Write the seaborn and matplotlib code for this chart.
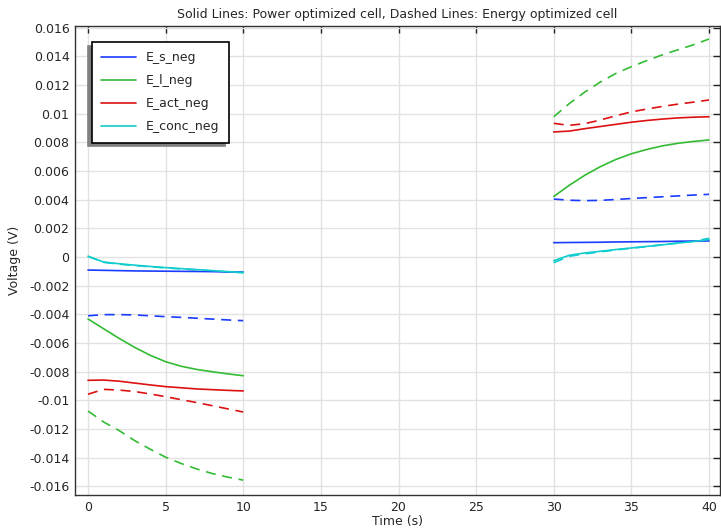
import numpy as np
import pandas as pd
import matplotlib
matplotlib.use("Agg")
import matplotlib.pyplot as plt
import seaborn as sns
from matplotlib.ticker import FuncFormatter, MultipleLocator

# ---- data ----
t_left = [0, 1, 2, 3, 4, 5, 6, 7, 8, 9, 10]
t_right = [30, 31, 32, 33, 34, 35, 36, 37, 38, 39, 40]

# Power optimized cell (solid)
Es_pow_L = [-0.00091, -0.00093, -0.00095, -0.00097, -0.00098, -0.00099, -0.00100, -0.00101, -0.00102, -0.00104, -0.00105]
El_pow_L = [-0.00432, -0.00500, -0.00567, -0.00630, -0.00685, -0.00730, -0.00762, -0.00784, -0.00800, -0.00815, -0.00828]
Eact_pow_L = [-0.0086, -0.00858, -0.00866, -0.00879, -0.00892, -0.00904, -0.00912, -0.0092, -0.00925, -0.0093, -0.00934]
Econc_pow_L = [0.00005, -0.00035, -0.00047, -0.00057, -0.00066, -0.00074, -0.00081, -0.00088, -0.00095, -0.00102, -0.00108]

Es_pow_R = [0.00100, 0.00101, 0.00102, 0.00103, 0.00105, 0.00106, 0.00107, 0.00108, 0.00110, 0.00111, 0.00112]
El_pow_R = [0.00422, 0.0050, 0.0057, 0.0063, 0.0068, 0.0072, 0.0075, 0.00775, 0.00793, 0.00806, 0.00816]
Eact_pow_R = [0.00872, 0.00878, 0.00895, 0.0091, 0.00925, 0.0094, 0.00952, 0.00962, 0.0097, 0.00975, 0.00978]
Econc_pow_R = [-0.00026, 0.00012, 0.00028, 0.0004, 0.00052, 0.00063, 0.00074, 0.00085, 0.00097, 0.00108, 0.00122]

# Energy optimized cell (dashed)
Es_en_L = [-0.0041, -0.00402, -0.00402, -0.00404, -0.0041, -0.00416, -0.00421, -0.00427, -0.00433, -0.00439, -0.00444]
El_en_L = [-0.01074, -0.0115, -0.0121, -0.0128, -0.0134, -0.01396, -0.0144, -0.01478, -0.0151, -0.01535, -0.01556]
Eact_en_L = [-0.00957, -0.00923, -0.00928, -0.00938, -0.00955, -0.00974, -0.00995, -0.01015, -0.01037, -0.01059, -0.01081]
Econc_en_L = [0.00005, -0.00037, -0.0005, -0.0006, -0.00068, -0.00076, -0.00083, -0.0009, -0.00097, -0.00104, -0.0011]

Es_en_R = [0.00404, 0.00396, 0.00393, 0.00395, 0.00401, 0.00408, 0.00414, 0.0042, 0.00426, 0.00432, 0.00437]
El_en_R = [0.00978, 0.0107, 0.0115, 0.0122, 0.0128, 0.01327, 0.0137, 0.0141, 0.01445, 0.0148, 0.0152]
Eact_en_R = [0.00932, 0.00918, 0.0093, 0.00955, 0.00985, 0.01012, 0.01032, 0.0105, 0.01066, 0.0108, 0.01095]
Econc_en_R = [-0.0004, 0.00005, 0.00022, 0.00036, 0.00049, 0.00061, 0.00073, 0.00085, 0.00098, 0.0011, 0.0013]

labels = ["E_s_neg", "E_l_neg", "E_act_neg", "E_conc_neg"]
colors = ["#1a3cff", "#33bb33", "#dd1111", "#11cccc"]
title = "Solid Lines: Power optimized cell, Dashed Lines: Energy optimized cell"
xlabel = "Time (s)"
ylabel = "Voltage (V)"

# ---- plot ----
sns.set_style("white")
plt.rcParams['font.family'] = ['DejaVu Sans']

fig = plt.figure(figsize=(7.21, 5.30), dpi=100)
ax = fig.add_axes([75 / 721, 35 / 530, (720 - 75) / 721, (495 - 26) / 530])

series = [
    (Es_pow_L, Es_pow_R, Es_en_L, Es_en_R),
    (El_pow_L, El_pow_R, El_en_L, El_en_R),
    (Eact_pow_L, Eact_pow_R, Eact_en_L, Eact_en_R),
    (Econc_pow_L, Econc_pow_R, Econc_en_L, Econc_en_R),
]

handles = []
for (pL, pR, eL, eR), lab, col in zip(series, labels, colors):
    sns.lineplot(x=t_left, y=eL, ax=ax, color=col, lw=1.2, linestyle=(0, (6, 4)))
    sns.lineplot(x=t_right, y=eR, ax=ax, color=col, lw=1.2, linestyle=(0, (6, 4)))
for (pL, pR, eL, eR), lab, col in zip(series, labels, colors):
    sns.lineplot(x=t_left, y=pL, ax=ax, color=col, lw=1.2)
    sns.lineplot(x=t_right, y=pR, ax=ax, color=col, lw=1.2)
    h, = ax.plot([], [], color=col, lw=1.2)
    handles.append(h)

ax.set_xlim((75 - 88) / 15.525, (720 - 88) / 15.525)
ax.set_ylim(-(495 - 257) / 14340, (257 - 26) / 14340)
ax.xaxis.set_major_locator(MultipleLocator(5))
ax.yaxis.set_major_locator(MultipleLocator(0.002))
ax.yaxis.set_major_formatter(FuncFormatter(lambda v, p: ("%g" % round(v, 4)) if abs(v) > 1e-9 else "0"))
ax.xaxis.set_major_formatter(FuncFormatter(lambda v, p: "%d" % round(v)))

ax.grid(True, color="#e2e2e2", lw=1)
ax.set_axisbelow(True)
ax.tick_params(direction="in", length=5, width=1, top=True, right=True, labelsize=9, color="#222222", pad=4)
for s in ax.spines.values():
    s.set_color("#333333")
    s.set_linewidth(1.0)

ax.set_title(title, fontsize=9, pad=6)
ax.set_xlabel(xlabel, fontsize=9, labelpad=1)
ax.set_ylabel(ylabel, fontsize=9, labelpad=6)

leg = ax.legend(handles, labels, loc="upper left", bbox_to_anchor=(0.026, 0.966), borderaxespad=0,
                fontsize=9, frameon=True, fancybox=False, handlelength=2.8, labelspacing=0.8,
                borderpad=0.75, handletextpad=0.8,
                shadow={"ox": -2.6, "oy": -2.6, "color": "#808080", "alpha": 1})
leg.get_frame().set_edgecolor("black")
leg.get_frame().set_linewidth(1.2)
leg.get_frame().set_alpha(1)

fig.savefig("out.png", dpi=100)
